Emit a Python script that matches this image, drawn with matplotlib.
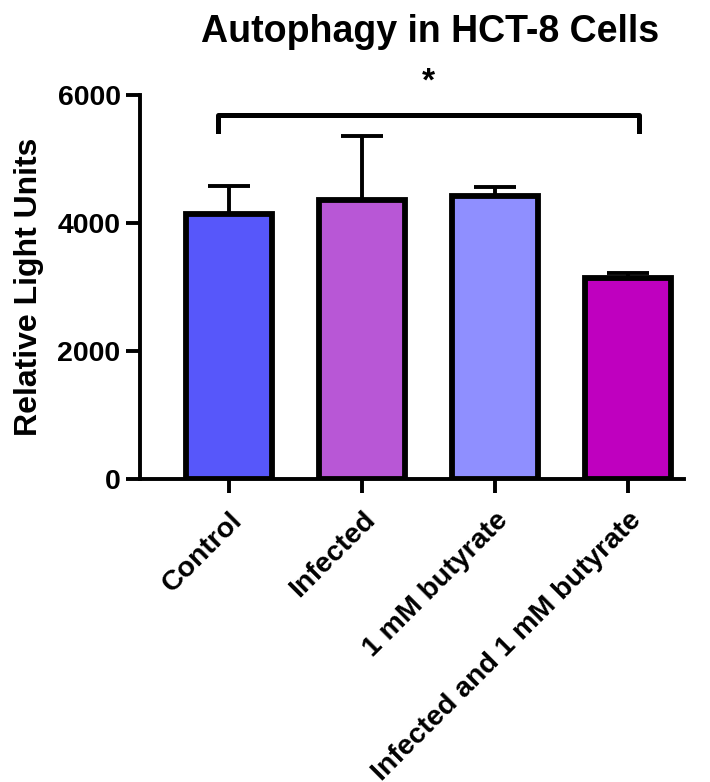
import matplotlib
matplotlib.use("Agg")
import matplotlib.pyplot as plt

categories = ["Control", "Infected", "1 mM butyrate", "Infected and 1 mM butyrate"]
means = [4140, 4360, 4420, 3140]
errors = [440, 1000, 140, 80]
colors = ["#5757FA", "#B857D6", "#8F8FFF", "#BF00BF"]
yticks = [0, 2000, 4000, 6000]
bracket_y = 5680
bracket_drop = 250

plt.rcParams['font.family'] = ['Liberation Sans', 'DejaVu Sans']
plt.rcParams['font.weight'] = 'bold'

W, H = 710, 782
fig = plt.figure(figsize=(W/100, H/100), dpi=100)
ax = fig.add_axes([140/W, 1-479/H, (684-140)/W, (479-95)/H])

x = list(range(len(categories)))
ax.bar(x, means, width=0.65, color=colors, edgecolor="black", linewidth=4.2, zorder=2)
ax.errorbar(x, means, yerr=[[0]*4, errors], fmt="none", ecolor="black",
            elinewidth=2.8, capsize=15, capthick=2.8, zorder=1)

ax.set_xlim(-0.67, 3.42)
ax.set_ylim(0, 6000)
ax.set_yticks(yticks)
ax.set_xticks(x)
ax.set_xticklabels(categories, rotation=45, ha="right", va="top", rotation_mode="anchor",
                   fontsize=20.5, fontweight="bold")
for lab in ax.get_yticklabels():
    lab.set_fontsize(20.5)
    lab.set_fontweight("bold")
ax.tick_params(axis="both", width=2.8, length=10, direction="out")
ax.tick_params(axis="x", pad=10)
ax.tick_params(axis="y", pad=4)
for s in ["top", "right"]:
    ax.spines[s].set_visible(False)
for s in ["left", "bottom"]:
    ax.spines[s].set_linewidth(2.8)
ax.set_ylabel("Relative Light Units", fontsize=23, fontweight="bold", labelpad=10)

# significance bracket
ax.plot([-0.08, -0.08, 3.08, 3.08], [bracket_y - bracket_drop, bracket_y, bracket_y, bracket_y - bracket_drop],
        color="black", lw=3.6, clip_on=False, solid_joinstyle="round")
ax.text(1.5, bracket_y + 280, "*", ha="center", va="bottom", fontsize=24, fontweight="bold")

fig.text(430/W, 1-32/H, "Autophagy in HCT-8 Cells", ha="center", va="center",
         fontsize=27, fontweight="bold")

fig.savefig("out.png", dpi=100)
